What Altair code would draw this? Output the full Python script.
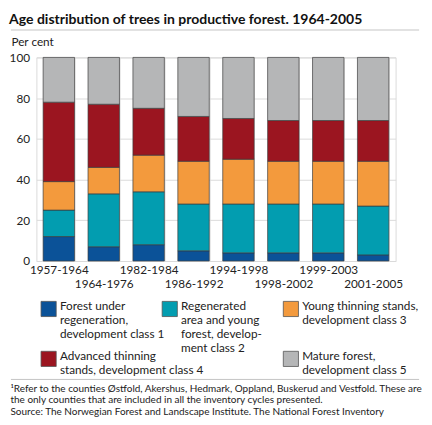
import altair as alt
import pandas as pd

periods = ["1957-1964", "1964-1976", "1982-1984", "1986-1992",
           "1994-1998", "1998-2002", "1999-2003", "2001-2005"]

class_keys = ["c1", "c2", "c3", "c4", "c5"]
class_labels = [
    "Forest under\nregeneration,\ndevelopment class 1",
    "Regenerated\narea and young\nforest, develop-\nment class 2",
    "Young thinning stands,\ndevelopment class 3",
    "Advanced thinning\nstands, development class 4",
    "Mature forest,\ndevelopment class 5",
]
class_colors = ["#0b5298", "#029db0", "#f39a3d", "#9b1520", "#b5b6b7"]

# per cent of area, class 1 (bottom) to class 5 (top)
class1 = [12, 7, 8, 5, 4, 4, 4, 3]
class2 = [13, 26, 26, 23, 24, 24, 24, 24]
class3 = [14, 13, 18, 21, 22, 21, 21, 22]
class4 = [39, 31, 23, 22, 20, 20, 20, 20]
class5 = [22, 23, 25, 29, 30, 31, 31, 31]

footnote = [
    "¹Refer to the counties Østfold, Akershus, Hedmark, Oppland, Buskerud and Vestfold. These are",
    "the only counties that are included in all the inventory cycles presented.",
    "Source: The Norwegian Forest and Landscape Institute. The National Forest Inventory",
]

rows = []
for k, series in zip(class_keys, [class1, class2, class3, class4, class5]):
    for p, v in zip(periods, series):
        rows.append({"period": p, "cls": k, "order": class_keys.index(k), "value": v})
df = pd.DataFrame(rows)

W, H = 367, 208

color_scale = alt.Scale(domain=class_keys, range=class_colors)
lower_row = "[" + ",".join("'%s'" % p for p in periods[1::2]) + "]"

bars = alt.Chart(df).mark_bar(stroke="#3c3c3c", strokeWidth=0.7).encode(
    x=alt.X("period:N", sort=periods, title=None,
            scale=alt.Scale(paddingInner=0.3, paddingOuter=0.15),
            axis=alt.Axis(labelAngle=0, labelOverlap=False, labelBound=False,
                          ticks=False, domain=False, grid=True,
                          gridColor="#dadada", tickBand="extent",
                          labelPadding=4, labelFontSize=12, labelColor="#222",
                          labelLineHeight=14, labelBaseline="top",
                          labelExpr="indexof(%s, datum.value) >= 0 ? ['', datum.label] : datum.label" % lower_row)),
    y=alt.Y("value:Q", stack="zero", scale=alt.Scale(domain=[0, 100]),
            axis=alt.Axis(values=[0, 20, 40, 60, 80, 100], domain=False, ticks=False,
                          gridColor="#dadada", labelFontSize=12, labelColor="#222",
                          labelPadding=7, title="Per cent", titleAngle=0,
                          titleAlign="left", titleBaseline="alphabetic",
                          titleX=-26, titleY=-12, titleFontSize=12,
                          titleFontWeight="normal", titleColor="#222")),
    color=alt.Color("cls:N", scale=color_scale, legend=None),
    order=alt.Order("order:Q"),
)

title_rule = alt.Chart(alt.Data(values=[{}])).mark_rule(color="#c4c4c4").encode(
    x=alt.value(-26), x2=alt.value(W + 24), y=alt.value(-28)
)

main = alt.layer(bars, title_rule).properties(
    width=W, height=H,
    view=alt.ViewBackground(stroke="#dadada"),
    title=alt.TitleParams("Age distribution of trees in productive forest. 1964-2005",
                          anchor="start", frame="bounds", fontSize=14.3,
                          fontWeight="bold", color="#111", offset=2),
)

# legend slots (column, row)
legend_slots = [(0, 0), (1, 0), (2, 0), (0, 1), (2, 1)]
leg_df = pd.DataFrame({
    "cls": class_keys,
    "label": class_labels,
    "col": [s[0] for s in legend_slots],
    "row": [s[1] for s in legend_slots],
})

LW, LH = 366, 85
lx = alt.X("col:Q", scale=alt.Scale(domain=[0, 2], range=[12.5, 260]), axis=None)
ly = alt.Y("row:Q", scale=alt.Scale(domain=[0, 1], range=[13, 64]), axis=None)

squares = alt.Chart(leg_df).mark_square(size=240, opacity=1, stroke="#555",
                                        strokeWidth=0.8).encode(
    x=lx, y=ly, color=alt.Color("cls:N", scale=color_scale, legend=None)
)
labels = alt.Chart(leg_df).mark_text(align="left", baseline="top", dx=11.5, dy=-8,
                                     lineBreak="\n", lineHeight=14.3, fontSize=12,
                                     color="#222").encode(
    x=lx, y=ly, text="label:N"
)
foot_rule = alt.Chart(alt.Data(values=[{}])).mark_rule(color="#c4c4c4").encode(
    x=alt.value(-26), x2=alt.value(391), y=alt.value(LH)
)

legend_chart = alt.layer(squares, labels, foot_rule).properties(
    width=LW, height=LH,
    title=alt.TitleParams(footnote, orient="bottom", anchor="start", frame="bounds",
                          fontSize=10.2, fontWeight="normal", color="#222",
                          lineHeight=11.8, offset=4),
)

chart = alt.vconcat(main, legend_chart, spacing=6).properties(
    padding=0
).configure(font="Lato").configure_view(stroke=None)

chart.save("out.html", embed_options={"renderer": "svg", "actions": False})
